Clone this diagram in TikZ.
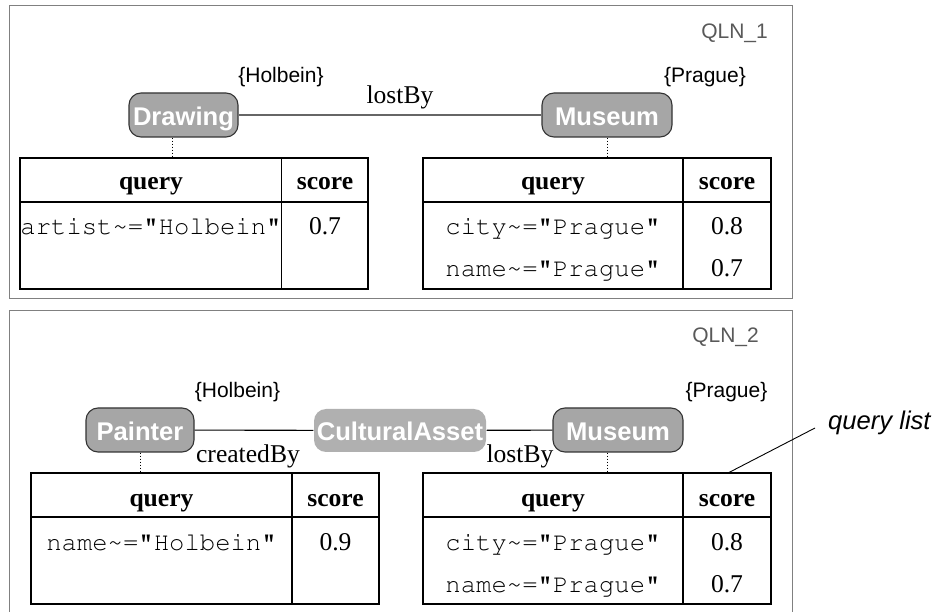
\documentclass[tikz,border=0pt]{standalone}
\usepackage[T1,TU]{fontenc}
\usepackage{fontspec}
\setmainfont{Liberation Serif}
\setsansfont{Liberation Sans}
\setmonofont{Liberation Mono}
\definecolor{nodegray}{HTML}{A6A6A6}
\definecolor{lightnode}{HTML}{B0B0B0}
\definecolor{framegray}{HTML}{808080}
\newcommand{\bigf}{\fontsize{25.6}{30}\selectfont}
\newcommand{\smallf}{\fontsize{21}{25}\selectfont}
\newcommand{\courierf}{\fontencoding{T1}\fontfamily{pcr}\fontseries{m}\fontshape{n}\fontsize{25.6}{30}\selectfont}
\newcommand{\tl}{\textasciitilde}
\tikzset{
  frame/.style={draw=framegray, line width=1pt},
  concept/.style={draw=black!80, fill=nodegray, rounded corners=12pt, line width=1.1pt,
    inner sep=0pt, minimum height=44pt, text=white, font=\sffamily\bfseries\bigf,
    text height=21pt, text depth=0pt},
  plainconcept/.style={concept, draw=none, fill=lightnode},
  tbl/.style={draw=black, line width=1.2pt, inner sep=0pt},
  tline/.style={draw=black, line width=1.2pt},
  head/.style={font=\rmfamily\bfseries\bigf, anchor=base, inner sep=0pt},
  cell/.style={font=\courierf, anchor=base, inner sep=0pt},
  num/.style={font=\rmfamily\bigf, anchor=base, inner sep=0pt},
  rel/.style={font=\rmfamily\bigf, anchor=base, inner sep=0pt},
  kw/.style={font=\sffamily\smallf, anchor=base, inner sep=0pt},
  qln/.style={font=\sffamily\smallf, text=black!65, anchor=base east, inner sep=0pt},
  edge/.style={line width=1.1pt},
  dots/.style={dotted, line width=1pt}
}
\begin{document}
\begin{tikzpicture}[x=1pt, y=-1pt]
\useasboundingbox (0,0) rectangle (938,612);
% ---------- panel 1 ----------
\draw[frame] (9,6) rectangle (792,299);
\node[qln] (qln1) at (768,39) {QLN\_1};
\node[kw] (hol1) at (281,83) {\{Holbein\}};
\node[kw] (pra1) at (705,83) {\{Prague\}};
\node[concept, minimum width=109pt] (draw1) at (183.5,115) {Drawing};
\node[concept, minimum width=130pt] (mus1) at (607,115) {Museum};
\draw[edge, draw=black!60] (draw1) -- (mus1);
\node[rel] (lost1) at (400,104) {lostBy};
% left table
\node[tbl, minimum width=348pt, minimum height=131pt] (lt1) at (194,223.5) {};
\draw[tline] (281.6,158) -- (281.6,289);
\draw[tline] (20,202) -- (368,202);
\node[head] at (151,190) {query};
\node[head] at (325,190) {score};
\node[cell] at (151,235) {artist\tl="Holbein"};
\node[num] at (325,235) {0.7};
\coordinate (lt1top) at (172.3,158);
\draw[dots] (draw1.south -| lt1top) -- (lt1top);
% right table
\node[tbl, minimum width=348pt, minimum height=131pt] (rt1) at (597,223.5) {};
\draw[tline] (683,158) -- (683,289);
\draw[tline] (423,202) -- (771,202);
\node[head] at (553,190) {query};
\node[head] at (727,190) {score};
\node[cell] at (553,235) {city\tl="Prague"};
\node[num] at (727,235) {0.8};
\node[cell] at (553,277) {name\tl="Prague"};
\node[num] at (727,277) {0.7};
\coordinate (rt1top) at (607,158);
\draw[dots] (mus1.south -| rt1top) -- (rt1top);
% ---------- panel 2 ----------
\draw[frame] (9,613) -- (9,311) -- (792,311) -- (792,613);
\node[qln] (qln2) at (759,343) {QLN\_2};
\node[kw] (hol2) at (237.5,398) {\{Holbein\}};
\node[kw] (pra2) at (726.5,398) {\{Prague\}};
\node[concept, minimum width=108pt] (paint2) at (140,430) {Painter};
\node[plainconcept, minimum width=172pt, minimum height=43pt] (ca2) at (400,430.5) {CulturalAsset};
\node[concept, minimum width=130pt] (mus2) at (618,430) {Museum};
\draw[edge] (paint2) -- (ca2);
\draw[edge] (ca2) -- (mus2);
\node[rel] (created2) at (248,463) {createdBy};
\node[rel] (lost2) at (520,463) {lostBy};
% left table
\node[tbl, minimum width=348pt, minimum height=131pt] (lt2) at (205,538.5) {};
\draw[tline] (292,473) -- (292,604);
\draw[tline] (31,517) -- (379,517);
\node[head] at (161.5,507) {query};
\node[head] at (335.5,507) {score};
\node[cell] at (161.5,550) {name\tl="Holbein"};
\node[num] at (335.5,550) {0.9};
\coordinate (lt2top) at (140,473);
\draw[dots] (paint2.south -| lt2top) -- (lt2top);
% right table
\node[tbl, minimum width=348pt, minimum height=131pt] (rt2) at (597,538.5) {};
\draw[tline] (683,473) -- (683,604);
\draw[tline] (423,517) -- (771,517);
\node[head] at (553,507) {query};
\node[head] at (727,507) {score};
\node[cell] at (553,550) {city\tl="Prague"};
\node[num] at (727,550) {0.8};
\node[cell] at (553,592) {name\tl="Prague"};
\node[num] at (727,592) {0.7};
\coordinate (rt2top) at (607,473);
\draw[dots] (mus2.south -| rt2top) -- (rt2top);
% annotation
\node[font=\sffamily\itshape\bigf, anchor=base west, inner sep=0pt] (ql) at (828,430) {query list};
\coordinate (qlfrom) at (815,428);
\coordinate (qlto) at (728,473);
\draw[line width=0.9pt] (qlfrom) -- (qlto);
\end{tikzpicture}
\end{document}
